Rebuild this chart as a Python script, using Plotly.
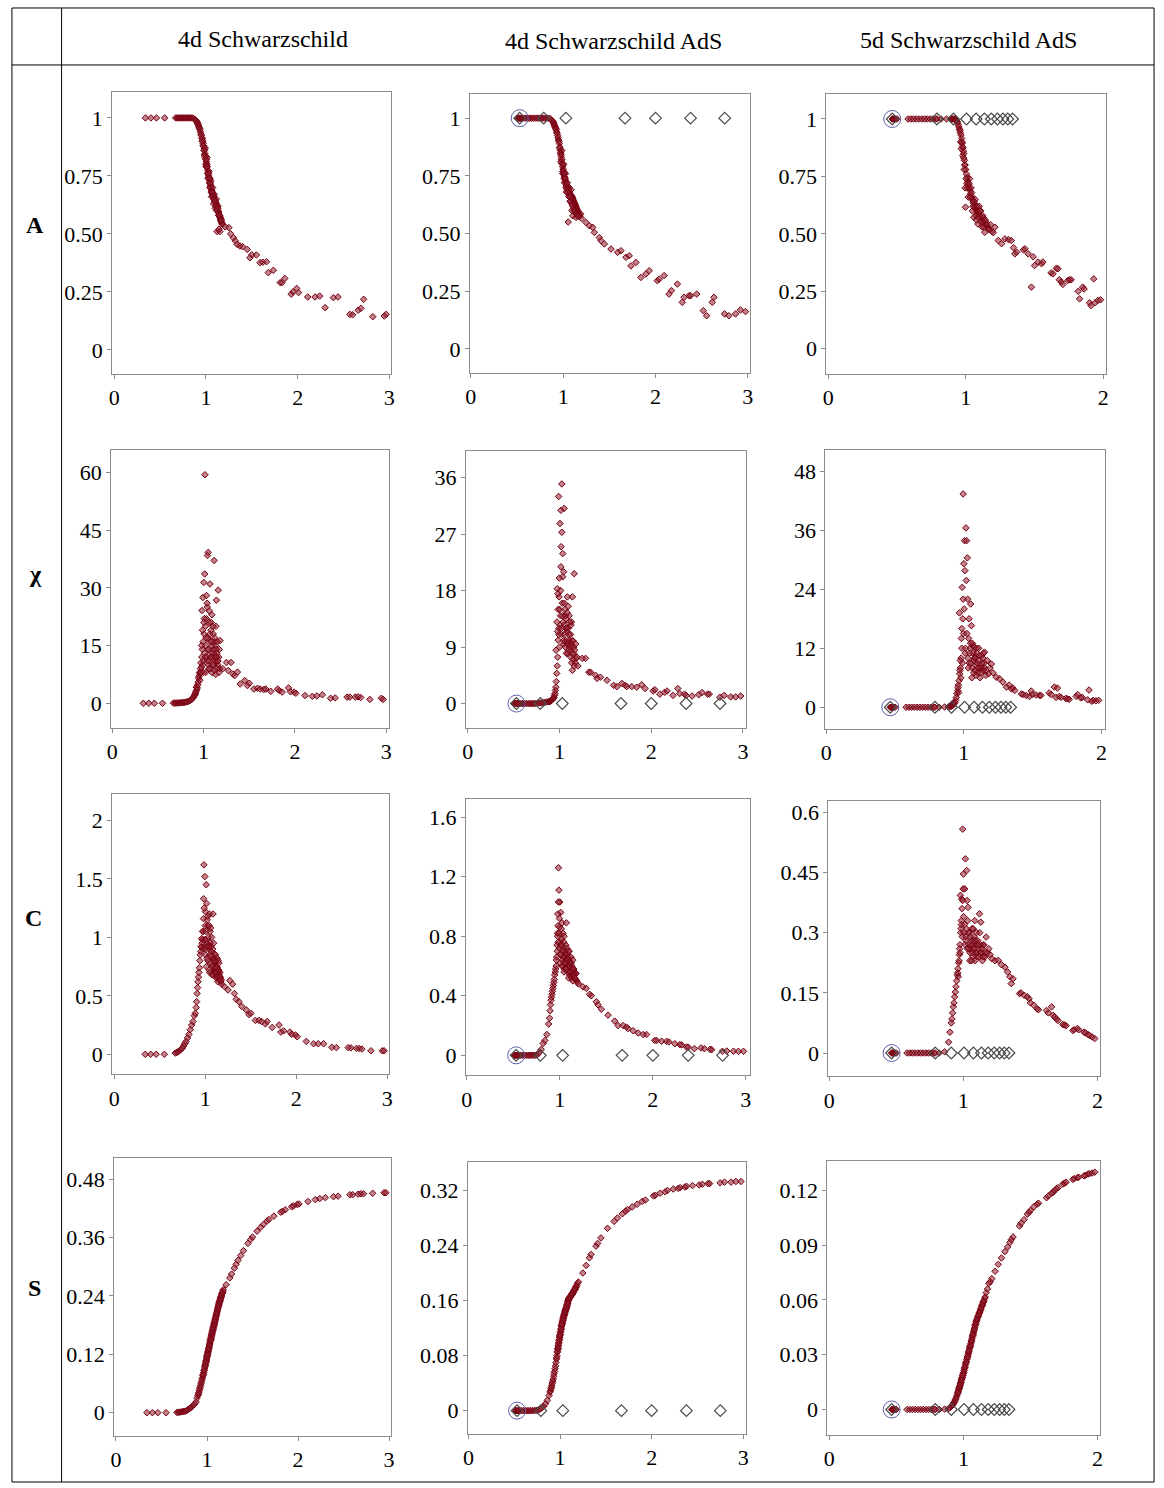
import plotly.graph_objects as go

W, H = 1164, 1488

# ---- column 1: 4d Schwarzschild -------------------------------------------
T1_LOW = [0.34, 0.40, 0.46, 0.55, 0.67, 0.685, 0.70, 0.715, 0.73, 0.745, 0.76, 0.775, 0.79, 0.805,
          0.82, 0.835, 0.85, 0.865, 0.88]
A1_LOW = [1, 1, 1, 1, 1, 1, 1, 1, 1, 1, 1, 1, 1, 1, 1, 1, 1, 0.998, 0.993]
CHI1_LOW = [0, 0, 0, 0, 0.05, 0.05, 0.05, 0.1, 0.1, 0.1, 0.15, 0.2, 0.25, 0.3, 0.4, 0.5, 0.7, 0.9, 1.3]
C1_LOW = [0, 0, 0, 0, 0.01, 0.015, 0.02, 0.03, 0.04, 0.05, 0.07, 0.09, 0.11, 0.14, 0.17, 0.21, 0.25, 0.28, 0.33]
S1_LOW = [0, 0, 0, 0, 0.0005, 0.001, 0.0012, 0.0015, 0.002, 0.0025, 0.003, 0.004, 0.006, 0.008,
          0.010, 0.012, 0.015, 0.018, 0.022]

T1_MID = [0.89, 0.90, 0.905, 0.91, 0.915, 0.92, 0.925, 0.93, 0.935, 0.94,
          0.945, 0.95, 0.955, 0.96, 0.965, 0.97, 0.975, 0.98, 0.985, 0.99,
          0.995, 1.00, 1.005, 1.01, 1.015, 1.02, 1.025, 1.03, 1.035, 1.04,
          1.045, 1.05, 1.055, 1.06, 1.065, 1.07, 1.075, 1.08, 1.085, 1.09,
          1.095, 1.10, 1.105, 1.11, 1.115, 1.12, 1.125, 1.13, 1.135, 1.14,
          1.145, 1.15, 1.155, 1.16, 1.165, 1.17, 1.175, 1.18]
A1_MID = [0.99, 0.985, 0.98, 0.975, 0.97, 0.965, 0.96, 0.955, 0.95, 0.94,
          0.93, 0.925, 0.915, 0.91, 0.90, 0.89, 0.88, 0.87, 0.86, 0.845,
          0.835, 0.82, 0.81, 0.80, 0.79, 0.775, 0.765, 0.75, 0.74, 0.73,
          0.72, 0.71, 0.70, 0.69, 0.685, 0.675, 0.67, 0.665, 0.66, 0.65,
          0.645, 0.64, 0.635, 0.63, 0.62, 0.615, 0.61, 0.60, 0.595, 0.59,
          0.58, 0.575, 0.57, 0.565, 0.555, 0.55, 0.545, 0.54]
CHI1_MID = [1.6, 2.0, 2.3, 2.6, 3.0, 4.2, 3.5, 4.0, 4.8, 5.5,
            6.5, 7.0, 8.0, 7.6, 9.0, 10.5, 9.4, 12, 14, 10,
            16, 11, 18, 13, 59.4, 20, 15, 22, 12, 25,
            17, 39.2, 14, 21, 11, 31, 16, 19, 13, 23,
            15, 12, 18, 14, 37.1, 16, 11, 15, 20, 26.8,
            13, 16, 10, 29.4, 12, 14, 9, 16.3]
C1_MID = [0.35, 0.40, 0.45, 0.52, 0.57, 0.62, 0.66, 0.70, 0.74, 0.80,
          0.85, 0.88, 0.92, 0.99, 0.95, 1.05, 0.90, 1.16, 1.62, 0.98,
          1.52, 1.10, 0.85, 1.45, 1.29, 0.95, 1.10, 0.80, 1.00, 0.90,
          1.20, 0.85, 0.95, 0.78, 0.88, 1.00, 0.75, 0.90, 1.20, 0.82,
          0.70, 0.86, 0.78, 0.72, 0.80, 0.68, 0.75, 0.82, 0.66, 0.72,
          0.70, 0.78, 0.65, 0.70, 0.66, 0.62, 0.64, 0.60]
S1_MID = [0.030, 0.035, 0.038, 0.041, 0.045, 0.049, 0.052, 0.056, 0.060, 0.064,
          0.068, 0.072, 0.076, 0.079, 0.083, 0.088, 0.092, 0.097, 0.101, 0.105,
          0.110, 0.115, 0.119, 0.124, 0.128, 0.132, 0.137, 0.141, 0.146, 0.150,
          0.154, 0.159, 0.163, 0.167, 0.171, 0.175, 0.179, 0.183, 0.187, 0.191,
          0.195, 0.199, 0.203, 0.207, 0.211, 0.215, 0.219, 0.222, 0.226, 0.229,
          0.232, 0.236, 0.239, 0.242, 0.245, 0.247, 0.250, 0.253]

T1_DUP = [0.982, 0.992, 1.002, 1.012, 1.022, 1.032, 1.042, 1.052, 1.062, 1.072,
          1.082, 1.092, 1.102, 1.112, 1.122, 1.132, 1.142, 1.152,
          0.978, 0.988, 0.998, 1.008, 1.018, 1.028, 1.038, 1.048, 1.058, 1.068,
          1.078, 1.088, 1.098, 1.108, 1.118, 1.128, 1.138, 1.148, 1.158, 1.168,
          0.968, 0.958, 1.003, 1.043]
A1_DUP = [0.84, 0.87, 0.79, 0.83, 0.74, 0.77, 0.70, 0.73, 0.66, 0.70,
          0.63, 0.67, 0.61, 0.65, 0.51, 0.62, 0.52, 0.51,
          0.86, 0.83, 0.80, 0.79, 0.76, 0.76, 0.72, 0.72, 0.68, 0.68,
          0.66, 0.65, 0.64, 0.62, 0.60, 0.61, 0.58, 0.58, 0.56, 0.56,
          0.88, 0.90, 0.82, 0.74]
CHI1_DUP = [24.1, 27.5, 31.4, 33.6, 8, 28, 38.4, 10, 24, 9,
            21, 8, 20, 10, 17, 7.5, 12, 11,
            15, 19, 8, 22, 12, 17, 26, 14, 9, 18,
            12, 16, 10, 13, 8.5, 12, 14, 9, 11, 8,
            8, 6, 21, 11]
C1_DUP = [1.33, 0.92, 1.22, 0.75, 1.15, 0.93, 0.72, 1.05, 0.92, 0.68,
          0.82, 0.95, 0.70, 0.85, 0.65, 0.74, 0.80, 0.68,
          1.05, 1.25, 0.90, 1.05, 0.82, 1.18, 0.92, 0.70, 1.08, 0.84,
          0.76, 0.68, 0.80, 0.74, 0.70, 0.66, 0.62, 0.72, 0.66, 0.63,
          0.98, 0.92, 0.98, 1.10]
S1_DUP = [0.098, 0.107, 0.117, 0.126, 0.134, 0.143, 0.152, 0.161, 0.169, 0.177,
          0.185, 0.193, 0.201, 0.209, 0.217, 0.224, 0.231, 0.237,
          0.0955, 0.104, 0.113, 0.122, 0.131, 0.139, 0.148, 0.157, 0.165, 0.173,
          0.181, 0.189, 0.197, 0.205, 0.213, 0.220, 0.228, 0.234, 0.240, 0.246,
          0.087, 0.078, 0.118, 0.151]

T1_TAIL = [1.21, 1.25, 1.27, 1.30, 1.32, 1.34, 1.37, 1.40, 1.45, 1.48,
           1.50, 1.55, 1.59, 1.62, 1.66, 1.68, 1.735, 1.81, 1.83, 1.86,
           1.93, 1.95, 1.99, 2.01, 2.11, 2.19, 2.24, 2.30, 2.39, 2.44,
           2.57, 2.60, 2.66, 2.69, 2.72, 2.82, 2.945, 2.965]
A1_TAIL = [0.53, 0.527, 0.50, 0.483, 0.47, 0.455, 0.448, 0.445, 0.433, 0.397,
           0.41, 0.409, 0.376, 0.378, 0.38, 0.333, 0.343, 0.29, 0.29, 0.308,
           0.24, 0.25, 0.265, 0.247, 0.228, 0.228, 0.232, 0.182, 0.225, 0.228,
           0.153, 0.151, 0.171, 0.179, 0.218, 0.143, 0.146, 0.153]
CHI1_TAIL = [9, 10.6, 8.5, 10.6, 7.6, 7.2, 8.1, 5.0, 5.9, 4.6,
             5.2, 3.7, 3.9, 3.7, 3.6, 3.7, 3.1, 3.7, 3.3, 2.9,
             4.0, 3.0, 2.9, 2.6, 2.0, 1.8, 1.9, 2.2, 1.3, 1.4,
             1.6, 1.6, 1.6, 1.7, 1.5, 1.0, 1.3, 1.0]
C1_TAIL = [0.58, 0.55, 0.63, 0.60, 0.52, 0.47, 0.45, 0.41, 0.38, 0.34,
           0.35, 0.29, 0.29, 0.28, 0.26, 0.28, 0.23, 0.25, 0.19, 0.20,
           0.19, 0.17, 0.165, 0.15, 0.11, 0.09, 0.09, 0.09, 0.06, 0.057,
           0.057, 0.055, 0.05, 0.05, 0.045, 0.03, 0.03, 0.03]
S1_TAIL = [0.263, 0.277, 0.285, 0.297, 0.305, 0.313, 0.323, 0.333, 0.348, 0.356,
           0.361, 0.373, 0.381, 0.387, 0.394, 0.397, 0.404, 0.412, 0.414, 0.417,
           0.423, 0.425, 0.428, 0.429, 0.434, 0.438, 0.440, 0.442, 0.444, 0.445,
           0.448, 0.448, 0.449, 0.450, 0.450, 0.451, 0.452, 0.452]

# ---- column 2: 4d Schwarzschild AdS ---------------------------------------
T2_LOW = [0.51, 0.52, 0.53, 0.54, 0.55, 0.56, 0.58, 0.60, 0.62, 0.64,
          0.66, 0.68, 0.70, 0.72, 0.74, 0.76, 0.78, 0.80, 0.82, 0.84,
          0.86, 0.88]
A2_LOW = [1, 1, 1, 1, 1, 1, 1, 1, 1, 1,
          1, 1, 1, 1, 1, 1, 1, 1, 1, 1,
          0.998, 0.99]
CHI2_LOW = [0, 0, 0, 0, 0, 0, 0, 0, 0, 0,
            0, 0, 0, 0, 0, 0.05, 0.1, 0.1, 0.15, 0.2,
            0.25, 0.3]
C2_LOW = [0, 0, 0, 0, 0, 0, 0, 0, 0, 0,
          0, 0, 0, 0, 0, 0.005, 0.02, 0.04, 0.08, 0.10,
          0.14, 0.21]
S2_LOW = [0, 0, 0, 0, 0, 0, 0, 0, 0, 0,
          0, 0, 0, 0, 0.0005, 0.001, 0.002, 0.004, 0.006, 0.010,
          0.015, 0.022]

T2_MID = [0.89, 0.895, 0.90, 0.905, 0.91, 0.915, 0.92, 0.925, 0.93, 0.935,
          0.94, 0.945, 0.95, 0.955, 0.96, 0.965, 0.97, 0.975, 0.98, 0.985,
          0.99, 0.995, 1.00, 1.005, 1.01, 1.015, 1.02, 1.025, 1.03, 1.035,
          1.04, 1.045, 1.05, 1.055, 1.06, 1.065, 1.07, 1.075, 1.08, 1.085,
          1.09, 1.095, 1.10, 1.105, 1.11, 1.115, 1.12, 1.125, 1.13, 1.135,
          1.14, 1.145, 1.15, 1.155, 1.16, 1.165, 1.17, 1.175, 1.18, 1.19,
          1.20]
A2_MID = [0.985, 0.98, 0.975, 0.97, 0.965, 0.96, 0.955, 0.95, 0.94, 0.935,
          0.925, 0.915, 0.905, 0.90, 0.89, 0.875, 0.86, 0.845, 0.83, 0.82,
          0.805, 0.79, 0.78, 0.77, 0.755, 0.745, 0.735, 0.725, 0.72, 0.71,
          0.705, 0.70, 0.695, 0.69, 0.685, 0.68, 0.675, 0.67, 0.67, 0.665,
          0.66, 0.66, 0.655, 0.65, 0.645, 0.64, 0.635, 0.63, 0.625, 0.62,
          0.615, 0.61, 0.605, 0.60, 0.595, 0.59, 0.585, 0.58, 0.575, 0.584,
          0.565]
CHI2_MID = [0.3, 0.35, 0.4, 0.45, 0.5, 0.55, 0.6, 0.7, 0.8, 0.9,
            1.0, 1.3, 1.6, 2.1, 2.6, 3.5, 4.8, 6.0, 7.4, 10.1,
            33.0, 12, 9, 28.7, 14, 21.8, 11, 35.0, 16, 23.9,
            13, 9.5, 31.1, 12.5, 15, 10, 13.5, 8, 11.5, 17,
            9.5, 12, 8.5, 14, 10, 7.5, 11, 9, 13, 8,
            17, 10, 7, 9, 20.7, 8.5, 6.5, 9.5, 7.2, 7.4,
            6.0]
C2_MID = [0.25, 0.30, 0.34, 0.37, 0.39, 0.41, 0.43, 0.45, 0.47, 0.49,
          0.51, 0.54, 0.56, 0.58, 0.60, 0.66, 0.74, 0.80, 0.87, 1.26,
          1.11, 0.72, 1.03, 0.62, 0.96, 0.68, 0.78, 0.89, 0.60, 0.72,
          0.66, 0.80, 0.58, 0.70, 0.64, 0.74, 0.89, 0.62, 0.68, 0.56,
          0.66, 0.60, 0.70, 0.54, 0.62, 0.58, 0.66, 0.52, 0.60, 0.56,
          0.64, 0.54, 0.58, 0.52, 0.56, 0.55, 0.51, 0.55, 0.50, 0.49,
          0.48]
S2_MID = [0.027, 0.029, 0.032, 0.034, 0.037, 0.040, 0.043, 0.046, 0.050, 0.054,
          0.057, 0.061, 0.065, 0.070, 0.075, 0.080, 0.085, 0.089, 0.094, 0.098,
          0.102, 0.106, 0.110, 0.114, 0.118, 0.122, 0.125, 0.128, 0.131, 0.134,
          0.137, 0.139, 0.141, 0.144, 0.146, 0.148, 0.150, 0.153, 0.155, 0.158,
          0.160, 0.162, 0.163, 0.164, 0.165, 0.166, 0.167, 0.168, 0.169, 0.170,
          0.171, 0.172, 0.174, 0.175, 0.176, 0.177, 0.179, 0.180, 0.182, 0.185,
          0.187]

T2_DUP = [0.975, 0.985, 0.995, 1.005, 1.015, 1.025, 1.035, 1.045, 1.055, 1.065,
          1.075, 1.085, 1.095, 1.105, 1.125, 1.14,
          0.972, 0.982, 0.992, 1.002, 1.012, 1.022, 1.032, 1.042, 1.052, 1.062,
          1.072, 1.082, 1.092, 1.102, 1.112, 1.122, 1.132, 1.142, 1.152, 1.162,
          0.962, 0.978, 0.997, 1.017]
A2_DUP = [0.81, 0.86, 0.76, 0.80, 0.72, 0.76, 0.68, 0.72, 0.55, 0.70,
          0.64, 0.69, 0.60, 0.577, 0.60, 0.57,
          0.85, 0.82, 0.80, 0.76, 0.74, 0.74, 0.70, 0.69, 0.68, 0.66,
          0.66, 0.64, 0.63, 0.62, 0.61, 0.60, 0.59, 0.585, 0.58, 0.575,
          0.87, 0.84, 0.77, 0.76]
CHI2_DUP = [18.3, 15, 17, 12.5, 30.8, 27.3, 20.2, 21, 11, 14,
            12, 10, 15.5, 9, 12.5, 5.3,
            13, 17.5, 11, 15, 18, 12, 14, 10, 16, 9,
            12, 14.5, 8, 11, 13, 9.5, 6.5, 10, 8, 6,
            8.5, 11.5, 20, 25]
C2_DUP = [0.82, 1.03, 0.92, 0.76, 0.85, 0.64, 0.82, 0.56, 0.66, 0.59,
          0.72, 0.65, 0.52, 0.63, 0.57, 0.50,
          0.70, 0.76, 0.82, 0.68, 0.74, 0.60, 0.70, 0.76, 0.62, 0.68,
          0.58, 0.64, 0.70, 0.60, 0.56, 0.62, 0.53, 0.58, 0.54, 0.52,
          0.64, 0.95, 0.86, 0.74]
S2_DUP = [0.090, 0.099, 0.107, 0.115, 0.123, 0.129, 0.135, 0.140, 0.145, 0.149,
          0.154, 0.159, 0.163, 0.165, 0.169, 0.172,
          0.086, 0.095, 0.103, 0.111, 0.119, 0.126, 0.132, 0.138, 0.143, 0.147,
          0.151, 0.156, 0.161, 0.164, 0.1655, 0.1675, 0.1695, 0.1715, 0.1745, 0.1765,
          0.077, 0.091, 0.109, 0.125]

T2_TAIL = [1.248, 1.284, 1.32, 1.338, 1.392, 1.41, 1.446, 1.518, 1.59, 1.626,
           1.68, 1.716, 1.734, 1.788, 1.842, 1.896, 1.932, 2.02, 2.04, 2.094,
           2.147, 2.173, 2.237, 2.29, 2.31, 2.363, 2.381, 2.446, 2.518, 2.554,
           2.615, 2.633, 2.748, 2.795, 2.867, 2.92, 2.975]
A2_TAIL = [0.548, 0.534, 0.527, 0.505, 0.483, 0.469, 0.455, 0.433, 0.419, 0.426,
           0.397, 0.404, 0.36, 0.375, 0.31, 0.325, 0.339, 0.296, 0.303, 0.318,
           0.238, 0.253, 0.281, 0.202, 0.224, 0.231, 0.231, 0.238, 0.166, 0.144,
           0.202, 0.224, 0.152, 0.144, 0.152, 0.169, 0.162]
CHI2_TAIL = [7.2, 7.2, 5.0, 5.0, 4.5, 4.0, 4.2, 3.7, 2.9, 2.7,
             3.2, 2.9, 2.7, 2.7, 2.6, 3.0, 2.4, 2.0, 2.2, 1.5,
             1.8, 2.0, 1.3, 2.4, 1.6, 1.5, 1.3, 1.2, 1.4, 1.75,
             1.5, 1.5, 1.0, 1.3, 1.06, 1.06, 1.2]
C2_TAIL = [0.46, 0.45, 0.41, 0.40, 0.36, 0.34, 0.31, 0.27, 0.23, 0.20,
           0.20, 0.19, 0.18, 0.165, 0.15, 0.14, 0.14, 0.10, 0.10, 0.095,
           0.094, 0.09, 0.078, 0.072, 0.07, 0.056, 0.055, 0.045, 0.05, 0.045,
           0.04, 0.038, 0.027, 0.029, 0.028, 0.027, 0.027]
S2_TAIL = [0.200, 0.211, 0.222, 0.227, 0.239, 0.243, 0.251, 0.265, 0.275, 0.280,
           0.286, 0.290, 0.292, 0.296, 0.300, 0.304, 0.306, 0.312, 0.313, 0.316,
           0.318, 0.320, 0.322, 0.323, 0.324, 0.325, 0.326, 0.327, 0.328, 0.329,
           0.330, 0.330, 0.331, 0.332, 0.332, 0.333, 0.333]

# ---- column 3: 5d Schwarzschild AdS ---------------------------------------
T3_LOW = [0.465, 0.47, 0.475, 0.48, 0.49, 0.50, 0.58, 0.60, 0.62, 0.64,
          0.66, 0.68, 0.70, 0.72, 0.74, 0.76, 0.78, 0.79, 0.82, 0.86,
          0.89, 0.90]
A3_LOW = [1, 1, 1, 1, 1, 1, 1, 1, 1, 1,
          1, 1, 1, 1, 1, 1, 1, 1, 1, 1,
          1, 1]
CHI3_LOW = [0, 0, 0, 0, 0, 0, 0, 0, 0, 0,
            0, 0, 0, 0, 0, 0, 0, 0, 0, 0.05,
            0.1, 0.15]
C3_LOW = [0, 0, 0, 0, 0, 0, 0, 0, 0, 0,
          0, 0, 0, 0, 0, 0, 0, 0, 0, 0.003,
          0.027, 0.052]
S3_LOW = [0, 0, 0, 0, 0, 0, 0, 0, 0, 0,
          0, 0, 0, 0, 0, 0, 0, 0, 0, 0.0002,
          0.0006, 0.001]

T3_MID = [0.91, 0.915, 0.92, 0.925, 0.93, 0.935, 0.94, 0.945, 0.95, 0.955,
          0.96, 0.965, 0.97, 0.975, 0.98, 0.985, 0.99, 0.995, 1.00, 1.005,
          1.01, 1.015, 1.02, 1.025, 1.03, 1.035, 1.04, 1.045, 1.05, 1.055,
          1.06, 1.065, 1.07, 1.075, 1.08, 1.085, 1.09, 1.095, 1.10, 1.11,
          1.12, 1.13, 1.14, 1.15, 1.16, 1.17, 1.18, 1.19, 1.20]
A3_MID = [1.0, 1.0, 0.998, 0.997, 0.995, 0.99, 0.985, 0.975, 0.965, 0.955,
          0.94, 0.93, 0.915, 0.895, 0.875, 0.85, 0.82, 0.80, 0.78, 0.76,
          0.745, 0.73, 0.715, 0.70, 0.69, 0.675, 0.665, 0.655, 0.645, 0.635,
          0.625, 0.62, 0.612, 0.605, 0.60, 0.595, 0.59, 0.585, 0.58, 0.57,
          0.56, 0.55, 0.543, 0.535, 0.53, 0.52, 0.54, 0.51, 0.505]
CHI3_MID = [0.2, 0.3, 0.4, 0.6, 0.8, 1.0, 1.4, 2.0, 2.8, 3.4,
            4.5, 5.4, 6.8, 8.0, 10, 12, 9, 43.4, 29.2, 33.9,
            11, 36.5, 33.9, 30.4, 10, 14, 9, 12, 21, 16.6,
            8, 11, 9.5, 12.2, 7.5, 10.5, 8.5, 11, 7, 9.5,
            8, 10.5, 7.5, 11.2, 6.5, 9.5, 6.8, 8, 8.8]
C3_MID = [0.075, 0.085, 0.10, 0.115, 0.125, 0.14, 0.152, 0.165, 0.18, 0.195,
          0.21, 0.225, 0.245, 0.27, 0.30, 0.33, 0.36, 0.558, 0.446, 0.30,
          0.409, 0.484, 0.28, 0.455, 0.26, 0.363, 0.27, 0.30, 0.25, 0.28,
          0.26, 0.31, 0.24, 0.27, 0.29, 0.33, 0.25, 0.27, 0.24, 0.26,
          0.347, 0.326, 0.25, 0.268, 0.239, 0.289, 0.25, 0.26, 0.245]
S3_MID = [0.0018, 0.0022, 0.0026, 0.0032, 0.0038, 0.0045, 0.0053, 0.0062, 0.0072, 0.0083,
          0.0095, 0.0108, 0.012, 0.0133, 0.0146, 0.016, 0.0173, 0.0187, 0.020, 0.0215,
          0.023, 0.0245, 0.026, 0.0274, 0.0288, 0.030, 0.0316, 0.033, 0.0345, 0.036,
          0.0375, 0.039, 0.0405, 0.042, 0.0435, 0.045, 0.0465, 0.048, 0.049, 0.051,
          0.053, 0.055, 0.057, 0.059, 0.061, 0.064, 0.066, 0.069, 0.070]

T3_DUP = [0.962, 0.968, 0.978, 0.988, 0.998, 1.008, 1.018, 1.028, 1.038, 1.048,
          1.058, 1.068, 1.078, 1.088, 1.098, 1.108, 1.118, 1.128, 1.138, 1.148,
          0.972, 0.982, 0.992, 1.002, 1.012, 1.022, 1.032, 1.042, 1.052, 1.062,
          1.072, 1.082, 1.092, 1.102, 1.112, 1.122, 1.132, 1.142, 1.152, 1.162,
          0.958, 0.975, 0.985, 0.995]
A3_DUP = [0.90, 0.87, 0.84, 0.78, 0.616, 0.72, 0.66, 0.74, 0.70, 0.60,
          0.572, 0.65, 0.56, 0.543, 0.62, 0.60, 0.53, 0.57, 0.507, 0.55,
          0.90, 0.86, 0.80, 0.74, 0.70, 0.72, 0.66, 0.68, 0.62, 0.64,
          0.58, 0.62, 0.57, 0.60, 0.55, 0.58, 0.53, 0.56, 0.54, 0.52,
          0.95, 0.88, 0.83, 0.70]
CHI3_DUP = [3, 19.2, 6, 24.4, 15, 27.8, 25.8, 22, 18, 13,
            6, 12.5, 10, 6.5, 9, 12, 6, 8, 10, 9,
            7.5, 14, 18, 20, 12, 15, 8, 11, 9, 13,
            7, 10, 12, 8, 10.5, 7, 9, 11, 8, 7.5,
            4, 9.5, 16, 22]
C3_DUP = [0.19, 0.23, 0.393, 0.384, 0.409, 0.32, 0.29, 0.38, 0.30, 0.23,
          0.27, 0.25, 0.28, 0.23, 0.30, 0.28, 0.24, 0.27, 0.26, 0.24,
          0.26, 0.31, 0.29, 0.34, 0.27, 0.31, 0.33, 0.26, 0.29, 0.23,
          0.31, 0.26, 0.28, 0.25, 0.27, 0.30, 0.25, 0.23, 0.27, 0.25,
          0.20, 0.25, 0.32, 0.38]
S3_DUP = [0.010, 0.0115, 0.014, 0.0168, 0.0195, 0.0224, 0.0254, 0.0282, 0.031, 0.034,
          0.037, 0.040, 0.043, 0.046, 0.0486, 0.0506, 0.0526, 0.0546, 0.0566, 0.0586,
          0.0123, 0.0149, 0.0176, 0.0203, 0.0233, 0.0262, 0.0291, 0.032, 0.0351, 0.038,
          0.0411, 0.0441, 0.0471, 0.0496, 0.0516, 0.0536, 0.0556, 0.0576, 0.0596, 0.0616,
          0.0092, 0.0133, 0.016, 0.0187]

T3_TAIL = [1.212, 1.236, 1.26, 1.284, 1.31, 1.33, 1.347, 1.357, 1.37, 1.419,
           1.43, 1.453, 1.477, 1.49, 1.5, 1.525, 1.55, 1.56, 1.62, 1.634,
           1.658, 1.67, 1.68, 1.694, 1.706, 1.742, 1.754, 1.766, 1.817, 1.827,
           1.85, 1.86, 1.9, 1.91, 1.93, 1.94, 1.96, 1.98]
A3_TAIL = [0.529, 0.471, 0.457, 0.478, 0.475, 0.471, 0.44, 0.413, 0.42, 0.43,
           0.435, 0.413, 0.268, 0.40, 0.362, 0.377, 0.37, 0.377, 0.33, 0.326,
           0.35, 0.348, 0.30, 0.29, 0.28, 0.297, 0.30, 0.30, 0.25, 0.217,
           0.268, 0.26, 0.20, 0.188, 0.304, 0.20, 0.21, 0.213]
CHI3_TAIL = [7, 6.1, 5.8, 5.1, 4.1, 4.5, 3.7, 3.9, 3.4, 2.7,
             2.6, 2.4, 2.2, 3.3, 2.6, 2.5, 2.4, 2.4, 2.9, 2.6,
             4.1, 2.0, 3.9, 2.2, 2.0, 1.8, 1.7, 1.6, 2.2, 2.6,
             1.9, 2.0, 1.5, 3.5, 1.2, 1.4, 1.3, 1.4]
C3_TAIL = [0.235, 0.23, 0.231, 0.22, 0.214, 0.202, 0.19, 0.173, 0.185, 0.148,
           0.15, 0.144, 0.14, 0.135, 0.125, 0.119, 0.11, 0.108, 0.106, 0.10,
           0.115, 0.094, 0.09, 0.085, 0.081, 0.071, 0.07, 0.068, 0.056, 0.058,
           0.061, 0.058, 0.052, 0.05, 0.046, 0.044, 0.04, 0.036]
S3_TAIL = [0.0717, 0.0757, 0.0795, 0.083, 0.0865, 0.089, 0.0915, 0.093, 0.0945, 0.1005,
           0.102, 0.104, 0.107, 0.108, 0.109, 0.111, 0.1125, 0.113, 0.116, 0.117,
           0.1185, 0.119, 0.12, 0.121, 0.1215, 0.1235, 0.124, 0.1245, 0.126, 0.1265,
           0.127, 0.1272, 0.128, 0.1283, 0.129, 0.1292, 0.1295, 0.13]

# grey reference diamonds and the circled start point (AdS columns only)
GREY_T2 = [0.53, 0.79, 1.03, 1.67, 2.0, 2.38, 2.75]
GREY_A2 = [1, 1, 1, 1, 1, 1, 1]
GREY_ZERO2 = [0, 0, 0, 0, 0, 0, 0]
GREY_T3 = [0.465, 0.79, 0.91, 1.005, 1.075, 1.135, 1.185, 1.23, 1.27, 1.305, 1.34]
GREY_A3 = [1, 1, 1, 1, 1, 1, 1, 1, 1, 1, 1]
GREY_ZERO3 = [0, 0, 0, 0, 0, 0, 0, 0, 0, 0, 0]
CIRCLE_T = [None, 0.53, 0.465]

COL_TITLES = ['4d Schwarzschild', '4d Schwarzschild AdS', '5d Schwarzschild AdS']
ROW_TITLES = ['A', 'χ', 'C', 'S']


def join(*parts):
    out = []
    for p in parts:
        out += p
    return out


columns = [
    dict(T=join(T1_LOW, T1_MID, T1_DUP, T1_TAIL),
         A=join(A1_LOW, A1_MID, A1_DUP, A1_TAIL),
         CHI=join(CHI1_LOW, CHI1_MID, CHI1_DUP, CHI1_TAIL),
         C=join(C1_LOW, C1_MID, C1_DUP, C1_TAIL),
         S=join(S1_LOW, S1_MID, S1_DUP, S1_TAIL),
         grey=None),
    dict(T=join(T2_LOW, T2_MID, T2_DUP, T2_TAIL),
         A=join(A2_LOW, A2_MID, A2_DUP, A2_TAIL),
         CHI=join(CHI2_LOW, CHI2_MID, CHI2_DUP, CHI2_TAIL),
         C=join(C2_LOW, C2_MID, C2_DUP, C2_TAIL),
         S=join(S2_LOW, S2_MID, S2_DUP, S2_TAIL),
         grey=(GREY_T2, GREY_A2, GREY_ZERO2)),
    dict(T=join(T3_LOW, T3_MID, T3_DUP, T3_TAIL),
         A=join(A3_LOW, A3_MID, A3_DUP, A3_TAIL),
         CHI=join(CHI3_LOW, CHI3_MID, CHI3_DUP, CHI3_TAIL),
         C=join(C3_LOW, C3_MID, C3_DUP, C3_TAIL),
         S=join(S3_LOW, S3_MID, S3_DUP, S3_TAIL),
         grey=(GREY_T3, GREY_A3, GREY_ZERO3)),
]
for ci, col in enumerate(columns):
    for k in ('A', 'CHI', 'C', 'S'):
        assert len(col[k]) == len(col['T']), (ci, k, len(col[k]), len(col['T']))

QUANTITIES = ['A', 'CHI', 'C', 'S']

# panel boxes in page pixels (left, top, right, bottom), axis ranges and ticks
PANELS = [
    [dict(box=(108, 91, 389, 373), xr=(-0.022, 3.022), yr=(-0.103, 1.112)),
     dict(box=(468, 93, 750, 372), xr=(-0.011, 3.022), yr=(-0.103, 1.105)),
     dict(box=(827, 93, 1109, 373), xr=(-0.014, 2.022), yr=(-0.109, 1.109))],
    [dict(box=(107, 449, 387, 727), xr=(-0.011, 3.033), yr=(-6.3, 65.9)),
     dict(box=(464, 450, 746, 727), xr=(-0.022, 3.032), yr=(-3.82, 40.3)),
     dict(box=(826, 449, 1108, 728), xr=(-0.007, 2.029), yr=(-4.33, 52.41))],
    [dict(box=(108, 794, 387, 1074), xr=(-0.022, 3.022), yr=(-0.171, 2.222)),
     dict(box=(464, 799, 750, 1075), xr=(-0.011, 3.043), yr=(-0.134, 1.719)),
     dict(box=(829, 801, 1103, 1076), xr=(-0.007, 2.022), yr=(-0.058, 0.627))],
    [dict(box=(110, 1158, 389, 1436), xr=(-0.019, 3.025), yr=(-0.048, 0.523)),
     dict(box=(466, 1162, 746, 1434), xr=(-0.008, 3.029), yr=(-0.034, 0.361)),
     dict(box=(828, 1161, 1103, 1435), xr=(-0.015, 2.022), yr=(-0.014, 0.136))],
]
YTICKS = [
    [([0, 0.25, 0.5, 0.75, 1], ['0', '0.25', '0.50', '0.75', '1'])] * 3,
    [([0, 15, 30, 45, 60], None), ([0, 9, 18, 27, 36], None), ([0, 12, 24, 36, 48], None)],
    [([0, 0.5, 1, 1.5, 2], None), ([0, 0.4, 0.8, 1.2, 1.6], None), ([0, 0.15, 0.3, 0.45, 0.6], None)],
    [([0, 0.12, 0.24, 0.36, 0.48], None), ([0, 0.08, 0.16, 0.24, 0.32], None),
     ([0, 0.03, 0.06, 0.09, 0.12], None)],
]
XTICKS = [[0, 1, 2, 3], [0, 1, 2, 3], [0, 1, 2]]

SERIF = 'Liberation Serif, Times New Roman, serif'
RED_FILL = 'rgba(140,30,45,0.55)'
RED_EDGE = '#7a0010'

fig = go.Figure()
layout = {}

for r, q in enumerate(QUANTITIES):
    for c, col in enumerate(columns):
        n = r * 3 + c + 1
        xa = 'x' if n == 1 else f'x{n}'
        ya = 'y' if n == 1 else f'y{n}'
        spec = PANELS[r][c]
        L, T, R, B = spec['box']

        fig.add_trace(go.Scatter(
            x=col['T'], y=col[q], mode='markers', xaxis=xa, yaxis=ya,
            marker=dict(symbol='diamond', size=5, color=RED_FILL,
                        line=dict(color=RED_EDGE, width=1)),
            hoverinfo='skip'))

        if col['grey'] is not None:
            gt, ga, gz = col['grey']
            fig.add_trace(go.Scatter(
                x=gt, y=ga if q == 'A' else gz, mode='markers', xaxis=xa, yaxis=ya,
                marker=dict(symbol='diamond-open', size=9, color='#4a4a4a',
                            line=dict(width=1.2)),
                hoverinfo='skip'))
            fig.add_trace(go.Scatter(
                x=[CIRCLE_T[c]], y=[1 if q == 'A' else 0], mode='markers',
                xaxis=xa, yaxis=ya,
                marker=dict(symbol='circle-open', size=17, color='#5b63a8',
                            line=dict(width=1)),
                hoverinfo='skip'))

        yt, ytxt = YTICKS[r][c]
        common = dict(showline=True, mirror=True, linecolor='#8c8c8c', linewidth=1,
                      ticks='outside', ticklen=4, tickcolor='#8c8c8c',
                      showgrid=False, zeroline=False,
                      tickfont=dict(family=SERIF, size=22, color='black'))
        layout['xaxis' if n == 1 else f'xaxis{n}'] = dict(
            domain=[L / W, R / W], range=list(spec['xr']), anchor=ya,
            tickmode='array', tickvals=XTICKS[c], **common)
        ydict = dict(domain=[1 - B / H, 1 - T / H], range=list(spec['yr']), anchor=xa,
                     tickmode='array', tickvals=yt, **common)
        if ytxt is not None:
            ydict['ticktext'] = ytxt
        layout['yaxis' if n == 1 else f'yaxis{n}'] = ydict

fig.update_layout(**layout)

# table frame
line = dict(color='black', width=1)
shapes = [
    dict(type='rect', xref='paper', yref='paper', x0=7 / W, x1=1157 / W,
         y0=1 - 1482 / H, y1=1 - 7 / H, line=line),
    dict(type='line', xref='paper', yref='paper', x0=7 / W, x1=1157 / W,
         y0=1 - 64 / H, y1=1 - 64 / H, line=line),
    dict(type='line', xref='paper', yref='paper', x0=57 / W, x1=57 / W,
         y0=1 - 1482 / H, y1=1 - 7 / H, line=line),
]

annotations = []
for title, (px, py) in zip(COL_TITLES, [(260, 38), (613, 40), (970, 39)]):
    annotations.append(dict(text=title, x=px / W, y=1 - py / H, xref='paper', yref='paper',
                            showarrow=False, xanchor='center', yanchor='middle',
                            font=dict(family=SERIF, size=24, color='black')))
for title, (px, py) in zip(ROW_TITLES, [(30, 224), (31, 573), (29, 918), (30, 1288)]):
    annotations.append(dict(text='<b>%s</b>' % title, x=px / W, y=1 - py / H,
                            xref='paper', yref='paper', showarrow=False,
                            xanchor='center', yanchor='middle',
                            font=dict(family=SERIF, size=24, color='black')))

fig.update_layout(width=W, height=H, margin=dict(l=0, r=0, t=0, b=0),
                  paper_bgcolor='white', plot_bgcolor='white', showlegend=False,
                  shapes=shapes, annotations=annotations)

# the page body has a default margin; drop it so the figure sits at the window origin
fig.write_html("out.html", config={'displayModeBar': False},
               post_script="document.body.style.margin='0';document.body.style.overflow='hidden';")
